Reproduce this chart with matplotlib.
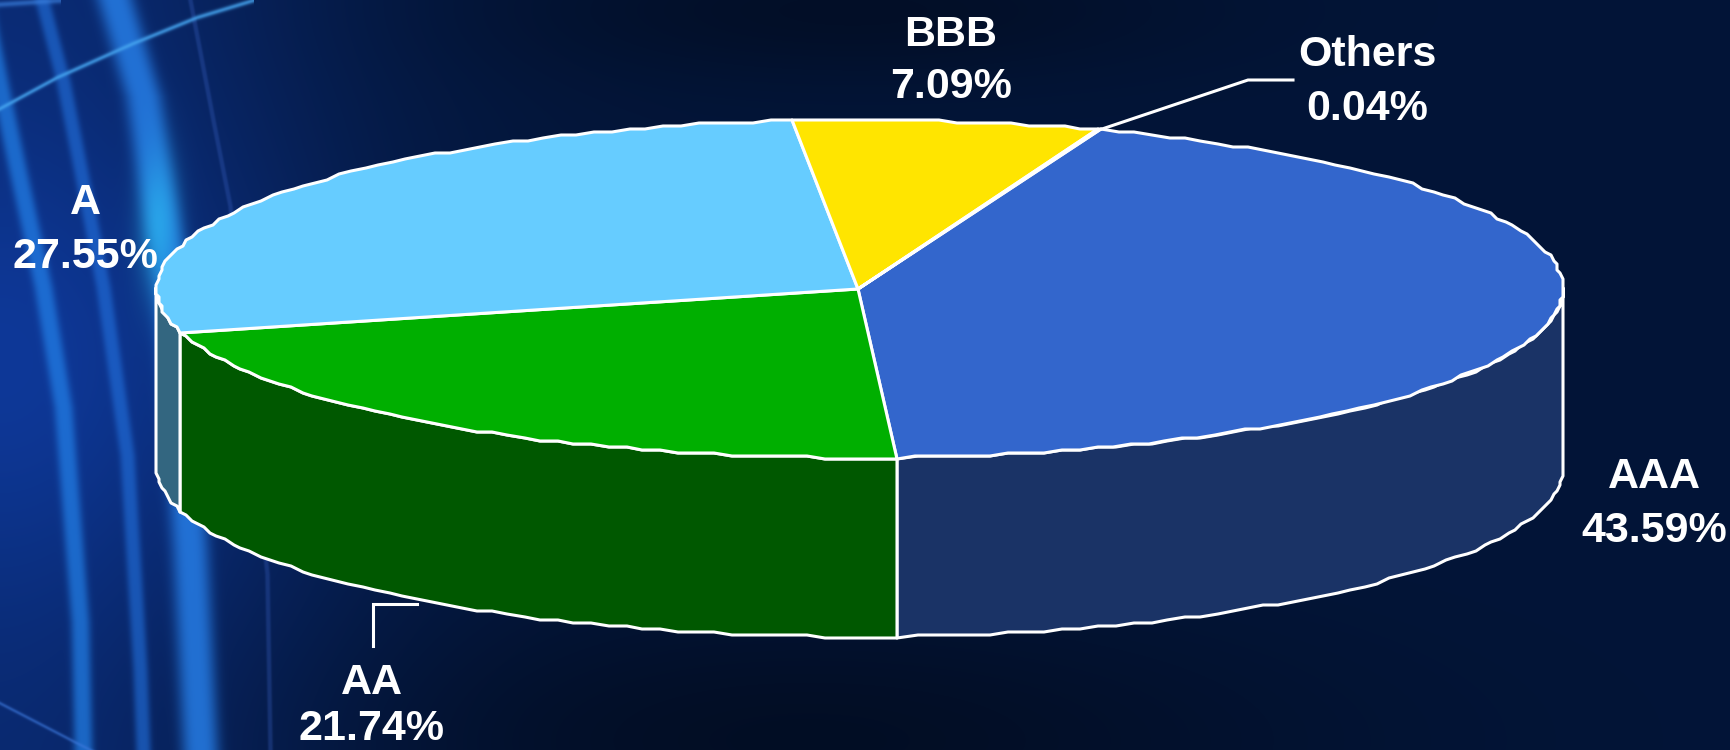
import matplotlib
matplotlib.use('Agg')
import matplotlib.pyplot as plt
import numpy as np

matplotlib.rcParams['font.family'] = ['Liberation Sans', 'DejaVu Sans']

categories = ["AAA", "AA", "A", "BBB", "Others"]
shares = [43.59, 21.74, 27.55, 7.09, 0.04]
top_colors = ["#3366CC", "#00AF00", "#66CCFF", "#FFE500", "#FF9900"]
side_colors = ["#1A3366", "#005800", "#336680", "#807300", "#804D00"]

# label centres in pixels: (x, y of name, y of percent)
label_pos = {
    "AAA": (1654, 473, 527),
    "AA": (372, 679, 725),
    "A": (85, 198, 252),
    "BBB": (951, 31, 83),
    "Others": (1367, 51, 105),
}
leaders = {
    "AA": ([417, 373, 373], [604, 604, 646]),
    "Others": ([1102, 1248, 1293], [129, 80, 80]),
}

W, H = 1730, 750
CX, CY, RX, RY, DEPTH = 860, 289, 703, 169, 179
START_ANGLE = 70
LINE_W = 2.2


def rim(a_from, a_to, drop=0):
    """ Точки эллипса между двумя углами, с грубой привязкой к сетке как на оригинале """
    n = max(2, int(abs(a_from - a_to) / 1.5) + 1)
    t = np.radians(np.linspace(a_from, a_to, n))
    x = np.round((CX + RX * np.cos(t)) / 3) * 3
    y = np.round((CY - RY * np.sin(t)) / 3) * 3 + drop
    return x, y


def make_background():
    yy, xx = np.mgrid[0:H, 0:W]
    dark = np.array([3, 21, 56], dtype=float)
    blue = np.array([14, 56, 152], dtype=float)
    k = np.exp(-(xx / 320.0) ** 2) * (0.6 + 0.4 * np.exp(-((yy - 360) / 230.0) ** 2))
    k = k[..., None]
    img = dark * (1 - k) + blue * k
    # тёмный низ по центру и чуть светлее справа вверху
    img *= (1 - 0.35 * np.exp(-((xx - 800) / 500.0) ** 2 - ((yy - 740) / 130.0) ** 2))[..., None]
    img *= (1 - 0.3 * np.exp(-((xx - 850) / 350.0) ** 2 - ((yy - 10) / 70.0) ** 2))[..., None]

    streaks = [
        ([0, 96, 191, 268, 550, 750], [115, 143, 157, 170, 190, 200], 19, (38, 125, 230), 0.85),
        ([86, 167, 287, 407, 622, 750], [0, 17, 43, 63, 80, 83], 10, (35, 130, 235), 0.7),
        ([0, 81, 167, 287, 455, 670, 750], [42, 63, 80, 103, 127, 140, 143], 8, (35, 115, 225), 0.6),
        ([0, 120, 206, 574, 750], [190, 213, 230, 267, 270], 2.5, (60, 100, 200), 0.3),
    ]
    for ys, xs, width, color, alpha in streaks:
        centre = np.interp(yy, ys, xs)
        # второй штрих уходит за левый край выше своей первой точки
        centre = centre - np.maximum(ys[0] - yy, 0) * 0.2
        a = alpha * np.exp(-(np.abs(xx - centre) / width) ** 3)
        a = a[..., None]
        img = img * (1 - a) + np.array(color, dtype=float) * a

    # яркое пятно у края пирога
    a = 0.6 * np.exp(-((xx - 158) / 20.0) ** 2 - ((yy - 225) / 70.0) ** 2)[..., None]
    img = img * (1 - a) + np.array([45, 195, 245], dtype=float) * a

    arcs = [
        ([0, 57, 133, 197, 253], [108, 77, 43, 17, 0], 2.5, (70, 165, 240), 0.75),
        ([0, 83, 130], [703, 746, 770], 2.0, (60, 120, 220), 0.55),
        ([0, 60], [4, 0], 3.0, (60, 130, 225), 0.6),
    ]
    for xs, ys, width, color, alpha in arcs:
        centre = np.interp(xx, xs, ys)
        a = alpha * np.exp(-((yy - centre) / width) ** 2)
        a[xx > xs[-1]] = 0
        a = a[..., None]
        img = img * (1 - a) + np.array(color, dtype=float) * a
    return np.clip(img, 0, 255).astype(np.uint8)


fig = plt.figure(figsize=(W / 100, H / 100), dpi=100)
ax = fig.add_axes([0, 0, 1, 1])
ax.imshow(make_background(), extent=(0, W, H, 0), aspect='auto', interpolation='bilinear', zorder=0)

angles = START_ANGLE - np.concatenate([[0], np.cumsum(shares)]) / sum(shares) * 360

# боковая стенка: видна только передняя половина
for i, color in enumerate(side_colors):
    hi, lo = min(angles[i], 0), max(angles[i + 1], -180)
    if hi <= lo:
        continue
    x_top, y_top = rim(hi, lo)
    x_bot, y_bot = rim(lo, hi, DEPTH)
    ax.fill(np.r_[x_top, x_bot], np.r_[y_top, y_bot], facecolor=color, edgecolor='white',
            linewidth=LINE_W, joinstyle='round', zorder=2)

# верхняя грань
for i, color in enumerate(top_colors):
    x_arc, y_arc = rim(angles[i], angles[i + 1])
    ax.fill(np.r_[CX - 2, x_arc], np.r_[CY, y_arc], facecolor=color, edgecolor='white',
            linewidth=LINE_W, joinstyle='round', zorder=3)

for xs, ys in leaders.values():
    ax.plot(xs, ys, color='white', linewidth=LINE_W, solid_joinstyle='miter', zorder=4)

for cat, val in zip(categories, shares):
    x, y_name, y_val = label_pos[cat]
    ax.text(x, y_name, cat, color='white', fontsize=31, fontweight='bold',
            ha='center', va='center_baseline', zorder=5)
    ax.text(x, y_val, f"{val:.2f}%", color='white', fontsize=31, fontweight='bold',
            ha='center', va='center_baseline', zorder=5)

ax.set_xlim(0, W)
ax.set_ylim(H, 0)
ax.axis('off')

fig.savefig('out.png', dpi=100)
plt.close(fig)
